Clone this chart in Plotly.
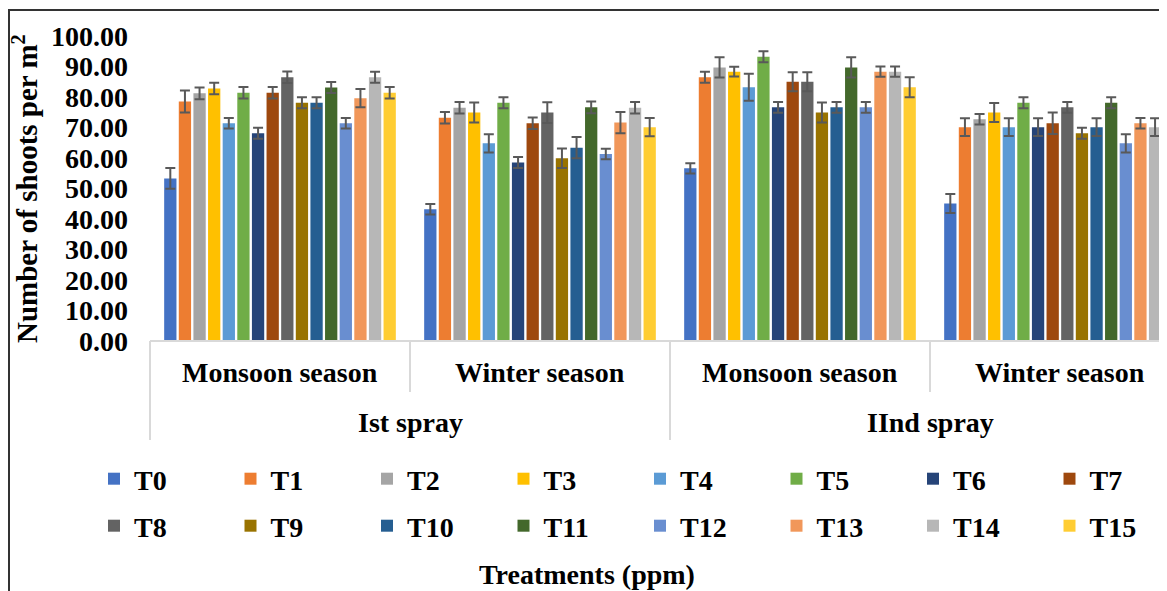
import plotly.graph_objects as go

treatments = ["T0", "T1", "T2", "T3", "T4", "T5", "T6", "T7",
              "T8", "T9", "T10", "T11", "T12", "T13", "T14", "T15"]
sprays = ["Ist spray", "Ist spray", "IInd spray", "IInd spray"]
seasons = ["Monsoon season", "Winter season", "Monsoon season", "Winter season"]

# values per group (one value per treatment)
ist_monsoon = [53.3, 78.5, 81.2, 82.8, 71.4, 81.4, 68.1, 81.4, 86.5, 78.1, 78.1, 83.1, 71.4, 79.6, 86.5, 81.4]
ist_winter = [43.2, 73.2, 76.5, 74.9, 64.8, 78.1, 58.5, 71.4, 74.9, 59.9, 63.4, 76.6, 61.3, 71.6, 76.5, 70.1]
iind_monsoon = [56.6, 86.5, 89.7, 88.3, 83.2, 93.2, 76.6, 85.0, 85.0, 74.9, 76.6, 89.7, 76.6, 88.3, 88.3, 83.2]
iind_winter = [45.1, 70.1, 72.7, 74.9, 70.1, 78.1, 70.1, 71.4, 76.6, 68.1, 70.1, 78.1, 64.8, 71.4, 70.1, 69.8]

err_ist_monsoon = [3.4, 3.6, 1.9, 1.9, 1.7, 1.9, 1.8, 1.9, 1.9, 1.8, 1.8, 1.8, 1.7, 3.0, 1.8, 1.9]
err_ist_winter = [1.7, 1.9, 1.9, 3.3, 3.0, 1.8, 1.8, 1.9, 3.4, 3.2, 3.5, 1.9, 1.7, 3.5, 1.9, 3.0]
err_iind_monsoon = [1.7, 1.8, 3.3, 1.6, 4.4, 1.8, 1.8, 3.1, 3.1, 3.3, 1.8, 3.3, 1.8, 1.7, 1.7, 3.3]
err_iind_winter = [3.1, 2.9, 1.7, 3.1, 2.9, 1.8, 2.9, 3.5, 1.8, 1.8, 2.9, 1.8, 3.0, 1.7, 2.9, 3.0]

colors = ["#4472C4", "#ED7D31", "#A5A5A5", "#FFC000", "#5B9BD5", "#70AD47", "#264478", "#9E480E",
          "#636363", "#997300", "#255E91", "#43682B", "#698ED0", "#F1975A", "#B7B7B7", "#FFCD33"]

y_ticks = [0, 10, 20, 30, 40, 50, 60, 70, 80, 90, 100]

groups = [ist_monsoon, ist_winter, iind_monsoon, iind_winter]
errs = [err_ist_monsoon, err_ist_winter, err_iind_monsoon, err_iind_winter]

FONT = "Liberation Serif"
W, H = 1167, 591
OFF = 8  # page body margin
PLOT_L, PLOT_T, PLOT_B = 150, 36, 341  # target page pixel positions
L = PLOT_L - OFF
T = PLOT_T - OFF
B = H - (PLOT_B - OFF)
R = 0
plot_w = W - L - R
plot_h = H - T - B


def px_x(p):
    return (p - PLOT_L) / plot_w


def px_y(p):
    return (PLOT_B - p) / plot_h


fig = go.Figure()
xpos = list(range(len(seasons)))
for i, t in enumerate(treatments):
    fig.add_trace(go.Bar(
        x=xpos,
        y=[g[i] for g in groups],
        name=t,
        marker=dict(color=colors[i], line=dict(width=0)),
        error_y=dict(type="data", array=[e[i] for e in errs], visible=True,
                     color="#595959", thickness=2, width=5),
        legend="legend" if i < 8 else "legend2",
    ))

shapes = []
# category axis line
shapes.append(dict(type="line", xref="paper", yref="paper", x0=0, x1=1.02, y0=0, y1=0,
                   line=dict(color="#D9D9D9", width=2)))
# dividers
for xv, ylow in [(150, 440), (410, 392), (670, 440), (930, 392)]:
    shapes.append(dict(type="line", xref="paper", yref="paper", x0=px_x(xv), x1=px_x(xv),
                       y0=0, y1=px_y(ylow), line=dict(color="#D9D9D9", width=2)))
# outer frame (top and left) as thin filled rectangles
shapes.append(dict(type="rect", xref="paper", yref="paper", layer="above",
                   x0=px_x(OFF), x1=px_x(W + 20),
                   y0=px_y(OFF + 3), y1=px_y(OFF + 1), line=dict(width=0), fillcolor="#333333"))
shapes.append(dict(type="rect", xref="paper", yref="paper", layer="above",
                   x0=px_x(OFF), x1=px_x(OFF + 2),
                   y0=px_y(OFF + 1), y1=px_y(H + 20), line=dict(width=0), fillcolor="#333333"))

annotations = []
for i, s in enumerate(seasons):
    annotations.append(dict(x=i, xref="x", y=px_y(372), yref="paper", text="<b>%s</b>" % s,
                            showarrow=False, font=dict(family=FONT, size=28, color="black"),
                            xanchor="center", yanchor="middle"))
for xc, s in [(0.5, "Ist spray"), (2.5, "IInd spray")]:
    annotations.append(dict(x=xc, xref="x", y=px_y(422), yref="paper", text="<b>%s</b>" % s,
                            showarrow=False, font=dict(family=FONT, size=28, color="black"),
                            xanchor="center", yanchor="middle"))
annotations.append(dict(x=px_x(587), xref="paper", y=px_y(574), yref="paper",
                        text="<b>Treatments (ppm)</b>", showarrow=False,
                        font=dict(family=FONT, size=28, color="black"),
                        xanchor="center", yanchor="middle"))
annotations.append(dict(x=px_x(25), xref="paper", y=px_y(189), yref="paper",
                        text="<b>Number of shoots per m<sup>2</sup></b>", showarrow=False,
                        textangle=-90, font=dict(family=FONT, size=29, color="black"),
                        xanchor="center", yanchor="middle"))

legend_common = dict(orientation="h", entrywidth=91.5, entrywidthmode="pixels",
                     font=dict(family=FONT, size=28, color="black", weight="bold"),
                     xanchor="left", yanchor="middle", bgcolor="rgba(0,0,0,0)",
                     itemclick=False, itemdoubleclick=False)

fig.update_layout(
    width=W, height=H,
    margin=dict(l=L, r=R, t=T, b=B, autoexpand=False),
    paper_bgcolor="white", plot_bgcolor="white",
    barmode="group", bargap=0.1, bargroupgap=0.16,
    showlegend=True,
    legend=dict(x=px_x(94), y=px_y(479), **legend_common),
    legend2=dict(x=px_x(94), y=px_y(526), **legend_common),
    xaxis=dict(range=[-0.5, -0.5 + plot_w / 260.0], showticklabels=False, showgrid=False,
               zeroline=False, showline=False, ticks="", automargin=False),
    yaxis=dict(range=[0, 100], tickvals=y_ticks, tickformat=".2f", showgrid=False,
               zeroline=False, showline=False, ticks="", ticklabelstandoff=21, automargin=False,
               tickfont=dict(family=FONT, size=28, color="black", weight="bold")),
    shapes=shapes,
    annotations=annotations,
)

fig.write_html("out.html")
